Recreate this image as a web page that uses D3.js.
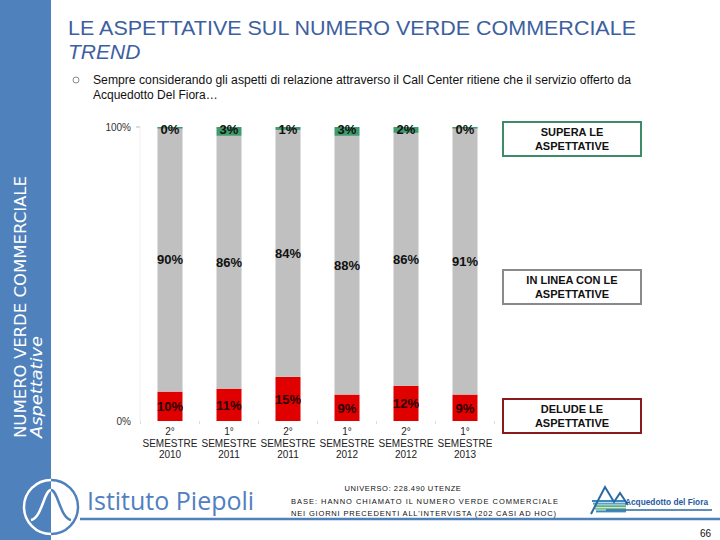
<!DOCTYPE html>
<html>
<head>
<meta charset="utf-8">
<script src="https://cdn.jsdelivr.net/npm/d3@7"></script>
<style>
  body { margin: 0; background: #fff; }
  svg { display: block; font-family: Arial, "Liberation Sans", sans-serif; }
</style>
</head>
<body>
<svg id="chart" width="720" height="540"></svg>
<script>
'use strict';

// periods on the x axis
var periods = ["2° SEMESTRE 2010", "1° SEMESTRE 2011", "2° SEMESTRE 2011",
               "1° SEMESTRE 2012", "2° SEMESTRE 2012", "1° SEMESTRE 2013"];
var periodLines = [["2°", "SEMESTRE", "2010"], ["1°", "SEMESTRE", "2011"],
                   ["2°", "SEMESTRE", "2011"], ["1°", "SEMESTRE", "2012"],
                   ["2°", "SEMESTRE", "2012"], ["1°", "SEMESTRE", "2013"]];

// series, bottom to top
var delude = [10, 11, 15, 9, 12, 9];
var inLinea = [90, 86, 84, 88, 86, 91];
var supera = [0, 3, 1, 3, 2, 0];

var seriesNames = ["DELUDE LE ASPETTATIVE", "IN LINEA CON LE ASPETTATIVE", "SUPERA LE ASPETTATIVE"];
var yTicks = [0, 100];

var svg = d3.select("#chart");
var blue = "#4f81bd";

// side band
svg.append("rect").attr("x", 0).attr("y", 0).attr("width", 51).attr("height", 540).attr("fill", blue);

svg.append("text")
    .attr("transform", "translate(26,438) rotate(-90)")
    .attr("font-family", "DejaVu Sans, sans-serif")
    .attr("font-size", 16.5).attr("fill", "#fff")
    .attr("textLength", 262).attr("lengthAdjust", "spacingAndGlyphs")
    .text("NUMERO VERDE COMMERCIALE");
svg.append("text")
    .attr("transform", "translate(42,438) rotate(-90)")
    .attr("font-family", "DejaVu Sans, sans-serif")
    .attr("font-size", 16).attr("font-style", "italic").attr("fill", "#fff")
    .attr("textLength", 102).attr("lengthAdjust", "spacingAndGlyphs")
    .text("Aspettative");

// title
var titleColor = "#3d5f9f";
svg.append("text").attr("x", 68).attr("y", 35)
    .attr("font-size", 21).attr("fill", titleColor)
    .attr("textLength", 568).attr("lengthAdjust", "spacingAndGlyphs")
    .text("LE ASPETTATIVE SUL NUMERO VERDE COMMERCIALE");
svg.append("text").attr("x", 68).attr("y", 59)
    .attr("font-size", 21).attr("font-style", "italic").attr("fill", titleColor)
    .text("TREND");

svg.append("circle").attr("cx", 76).attr("cy", 80).attr("r", 3)
    .attr("fill", "none").attr("stroke", "#888").attr("stroke-width", 1);
svg.append("text").attr("x", 93).attr("y", 84).attr("font-size", 12).attr("fill", "#111")
    .attr("textLength", 538).attr("lengthAdjust", "spacingAndGlyphs")
    .text("Sempre considerando gli aspetti di relazione attraverso il Call  Center ritiene che il servizio offerto da");
svg.append("text").attr("x", 93).attr("y", 99).attr("font-size", 12).attr("fill", "#111")
    .text("Acquedotto Del Fiora…");

// chart
var x = d3.scaleBand().domain(periods).range([140.5, 494.5])
    .paddingInner(0.576).paddingOuter(0.288);
var y = d3.scaleLinear().domain([0, 100]).range([421, 127]);

var stack = d3.stack().keys(["delude", "inLinea", "supera"]);
var rows = periods.map(function(p, i) {
    return { period: p, delude: delude[i], inLinea: inLinea[i], supera: supera[i] };
});
var layers = stack(rows);
var colors = { delude: "#e00000", inLinea: "#c0c0c0", supera: "#3f9a6c" };

var g = svg.append("g");

// faint axis lines
g.append("line").attr("x1", 140).attr("x2", 140).attr("y1", y(100)).attr("y2", y(0))
    .attr("stroke", "#f0f0f0");
g.append("line").attr("x1", 136).attr("x2", 140).attr("y1", y(100)).attr("y2", y(100))
    .attr("stroke", "#bbb");
g.selectAll(".xtick").data(d3.range(periods.length + 1)).enter().append("line")
    .attr("x1", function(i) { return 140.5 + i * x.step(); })
    .attr("x2", function(i) { return 140.5 + i * x.step(); })
    .attr("y1", y(0)).attr("y2", y(0) + 3)
    .attr("stroke", "#ddd");

g.selectAll(".ylab").data(yTicks).enter().append("text")
    .attr("x", 131).attr("y", function(d) { return y(d) + 4; })
    .attr("text-anchor", "end").attr("font-size", 10).attr("fill", "#333")
    .text(function(d) { return d + "%"; });

layers.forEach(function(layer) {
    g.selectAll(".bar-" + layer.key).data(layer).enter().append("rect")
        .attr("x", function(d) { return x(d.data.period); })
        .attr("width", x.bandwidth())
        .attr("y", function(d) { return y(d[1]); })
        .attr("height", function(d) { return Math.max(y(d[0]) - y(d[1]), layer.key === "supera" ? 1.5 : 0); })
        .attr("fill", colors[layer.key]);
});

layers.forEach(function(layer) {
    g.selectAll(".lab-" + layer.key).data(layer).enter().append("text")
        .attr("x", function(d) { return x(d.data.period) + x.bandwidth() / 2; })
        .attr("y", function(d) {
            if (layer.key === "supera") return y(100) + 7;
            return (y(d[0]) + y(d[1])) / 2 + 5;
        })
        .attr("text-anchor", "middle").attr("font-size", 13).attr("font-weight", "bold")
        .attr("fill", layer.key === "delude" ? "#2a0000" : "#111")
        .text(function(d) { return (d[1] - d[0]) + "%"; });
});

// x labels
periodLines.forEach(function(lines, i) {
    var t = g.append("text")
        .attr("x", x(periods[i]) + x.bandwidth() / 2).attr("y", 435)
        .attr("text-anchor", "middle").attr("font-size", 10).attr("fill", "#222");
    lines.forEach(function(l, j) {
        t.append("tspan").attr("x", x(periods[i]) + x.bandwidth() / 2)
            .attr("dy", j === 0 ? 0 : 11.5).text(l);
    });
});

// legend boxes
var legendBoxes = [
    { name: seriesNames[2], y: 122, stroke: "#3f8a68" },
    { name: seriesNames[1], y: 270, stroke: "#8a8a8a" },
    { name: seriesNames[0], y: 399, stroke: "#8b1a1a" }
];
var lines2 = { "SUPERA LE ASPETTATIVE": ["SUPERA LE", "ASPETTATIVE"],
               "IN LINEA CON LE ASPETTATIVE": ["IN LINEA CON LE", "ASPETTATIVE"],
               "DELUDE LE ASPETTATIVE": ["DELUDE LE", "ASPETTATIVE"] };
legendBoxes.forEach(function(b) {
    svg.append("rect").attr("x", 503).attr("y", b.y).attr("width", 138).attr("height", 34)
        .attr("fill", "#fff").attr("stroke", b.stroke).attr("stroke-width", 2);
    lines2[b.name].forEach(function(l, j) {
        svg.append("text").attr("x", 572).attr("y", b.y + 14 + j * 14)
            .attr("text-anchor", "middle").attr("font-size", 11).attr("font-weight", "bold")
            .attr("fill", "#111").text(l);
    });
});

// footer
svg.append("line").attr("x1", 80).attr("x2", 720).attr("y1", 519).attr("y2", 519)
    .attr("stroke", blue).attr("stroke-width", 2.5);

var clipIn = svg.append("clipPath").attr("id", "inBand");
clipIn.append("rect").attr("x", 0).attr("y", 0).attr("width", 51).attr("height", 540);
var clipOut = svg.append("clipPath").attr("id", "outBand");
clipOut.append("rect").attr("x", 51).attr("y", 0).attr("width", 669).attr("height", 540);

var bell = "M31,520 C42,518 44,490 51,490 C58,490 60,518 71,520";
[["inBand", "#fff"], ["outBand", blue]].forEach(function(c) {
    var lg = svg.append("g").attr("clip-path", "url(#" + c[0] + ")");
    lg.append("circle").attr("cx", 51).attr("cy", 507).attr("r", 27)
        .attr("fill", "none").attr("stroke", c[1]).attr("stroke-width", 2.5);
    lg.append("path").attr("d", bell).attr("fill", "none").attr("stroke", c[1]).attr("stroke-width", 2.5);
});
svg.append("text").attr("x", 87).attr("y", 510)
    .attr("font-family", "Open Sans, sans-serif")
    .attr("font-size", 25).attr("fill", "#5080c0").text("Istituto Piepoli");

var footNotes = ["UNIVERSO: 228.490 UTENZE",
                 "BASE: HANNO CHIAMATO IL NUMERO VERDE COMMERCIALE",
                 "NEI GIORNI PRECEDENTI ALL'INTERVISTA (202 CASI AD HOC)"];
svg.append("text").attr("x", 403).attr("y", 491)
    .attr("text-anchor", "middle").attr("font-size", 7.5).attr("letter-spacing", 0.6)
    .attr("fill", "#111").text(footNotes[0]);
[footNotes[1], footNotes[2]].forEach(function(t, i) {
    svg.append("text").attr("x", 291).attr("y", 504 + i * 12)
        .attr("font-size", 7.5).attr("fill", "#111")
        .attr("textLength", i === 0 ? 267 : 265).attr("lengthAdjust", "spacing")
        .text(t);
});

// Acquedotto del Fiora logo
var lg2 = svg.append("g");
var stripes = ["#3a8ac0", "#5aa0c8", "#60b080", "#80c090", "#3a8ac0"];
stripes.forEach(function(c, i) {
    lg2.append("rect").attr("x", 592 + i * 1).attr("y", 500 + i * 2.6).attr("width", 34 - i * 1)
        .attr("height", 2).attr("fill", c);
});
lg2.append("path").attr("d", "M591,514 L605,487 L614,502 L620,493 L628,505")
    .attr("fill", "none").attr("stroke", "#2a6aa0").attr("stroke-width", 2);
lg2.append("text").attr("x", 625).attr("y", 505).attr("font-size", 8.5).attr("font-weight", "bold")
    .attr("fill", "#1f5aa0")
    .attr("textLength", 83).attr("lengthAdjust", "spacingAndGlyphs")
    .text("Acquedotto del Fiora");
lg2.append("line").attr("x1", 606).attr("x2", 712).attr("y1", 510).attr("y2", 510)
    .attr("stroke", "#2a6aa0").attr("stroke-width", 1.5);

svg.append("text").attr("x", 711).attr("y", 537).attr("text-anchor", "end")
    .attr("font-size", 10).attr("fill", "#111").text("66");
</script>
</body>
</html>
